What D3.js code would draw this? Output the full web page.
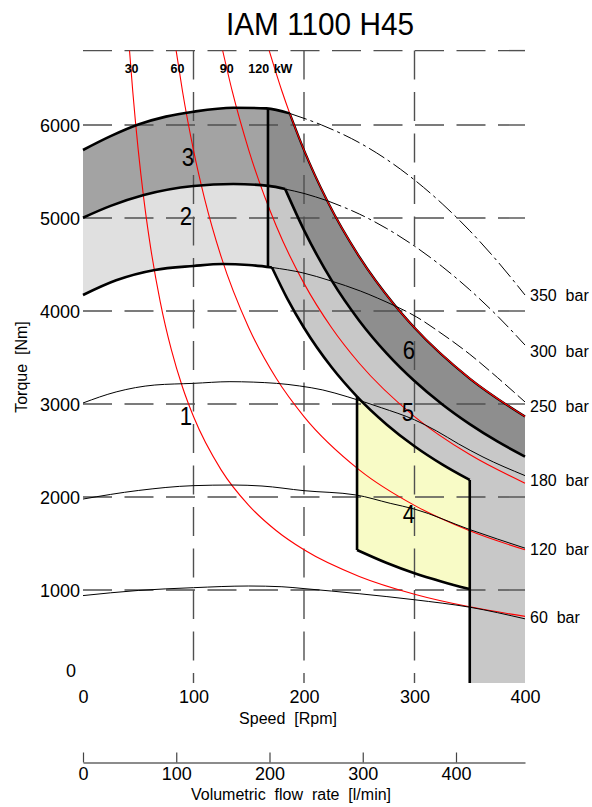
<!DOCTYPE html>
<html><head><meta charset="utf-8">
<script src="https://cdn.jsdelivr.net/npm/d3@7"></script>
<style>
body{margin:0;background:#fff}
svg{display:block}
text{font-family:"Liberation Sans",Arial,sans-serif;fill:#000}
</style></head>
<body><svg id="c" width="592" height="807"></svg>
<script>
// ---------- data ----------
const chartTitle = "IAM 1100 H45";
const rpmTicks = [0, 100, 200, 300, 400];
const torqueTicks = [1000, 2000, 3000, 4000, 5000, 6000];
const torqueGrid = [1000, 2000, 3000, 4000, 5000, 6000, 6800];
const rpmGrid = [100, 200, 300];
const flowTicks = [0, 100, 200, 300, 400];
const flowMax = 474;
const powerLabels = ["30", "60", "90", "120", "kW"];
const powerLabelRpm = [44, 85.5, 130, 159, 181];
const pressureLabels = ["350  bar", "300  bar", "250  bar", "180  bar", "120  bar", "60  bar"];

// pressure lines: [rpm, torque Nm]
const p350 = [[0,5731],[25,5880],[50,6005],[75,6090],[100,6143],[136,6186],[166,6179],[187,6125],[216,6000],[250,5810],[275,5628],[300,5409],[325,5154],[350,4863],[375,4535],[400,4172]];
const p300 = [[0,5003],[25,5130],[55,5247],[100,5344],[136,5366],[168,5345],[183,5311],[200,5264],[221,5186],[250,5043],[275,4886],[300,4698],[325,4478],[350,4228],[375,3947],[400,3634]];
const p250 = [[0,4172],[30,4330],[65,4441],[100,4484],[126,4505],[150,4495],[171,4468],[199,4410],[224,4325],[251,4215],[282,4057],[302,3935],[323,3770],[350,3535],[375,3285],[400,3022]];
const p180 = [[0,3011],[30,3130],[65,3204],[100,3222],[133,3240],[175,3222],[196,3194],[217,3151],[239,3079],[270,2960],[300,2830],[320,2710],[340,2570],[362,2430],[400,2230]];
const p120 = [[0,1978],[50,2070],[100,2122],[135,2129],[162,2118],[200,2068],[247,2022],[278,1932],[300,1870],[350,1650],[400,1450]];
const p60  = [[0,940],[50,995],[100,1025],[150,1043],[180,1035],[200,1015],[250,960],[300,895],[350,815],[400,690]];

// constant power lines (kW)
const kw30  = [[42.1,6800],[45,6366],[50,5730],[55,5209],[60,4775],[70,4093],[80,3581],[90,3183],[100,2865],[125,2292],[150,1910],[175,1637],[200,1432],[250,1146],[300,955],[350,819],[400,716]];
const kw60  = [[84.3,6800],[90,6366],[100,5730],[110,5209],[125,4584],[150,3820],[175,3274],[200,2865],[250,2292],[300,1910],[350,1637],[400,1432]];
const kw90  = [[126.4,6800],[135,6366],[150,5730],[175,4911],[200,4297],[225,3820],[250,3438],[300,2865],[350,2456],[400,2149]];
const kw120 = [[168.5,6800],[180,6366],[187,6128],[200,5730],[221,5185],[250,4584],[282,4064],[300,3820],[350,3274],[400,2865]];

// region boundaries
const lineA = [[183,5311],[200,4870],[225,4329],[250,3896],[275,3542],[300,3247],[325,2997],[350,2783],[375,2597],[400,2435]];
const lineB = [[171,4468],[185,4130],[200,3820],[225,3395],[248,3080],[275,2778],[300,2546],[325,2351],[350,2183]];
const r4Bottom = [[248,1430],[275,1290],[300,1180],[325,1090],[350,1010]];
const contLimitRpm = 167.4;
const r4Rpm = [248, 350];

const regionLabels = [["1",93,2871],["2",93,5022],["3",95,5656],["4",295,1817],["5",294,2914],["6",295,3581]];

// ---------- drawing ----------
const svg = d3.select("#c");
const xS = d3.scaleLinear().domain([0,400]).range([83,525]);
const yS = d3.scaleLinear().domain([0,6800]).range([683,50.6]);
const fS = d3.scaleLinear().domain([0,flowMax]).range([83,525]);

const line = d3.line().x(d=>xS(d[0])).y(d=>yS(d[1])).curve(d3.curveMonotoneX);

function at(arr,n){
  for(let i=0;i<arr.length-1;i++){
    const [x0,y0]=arr[i],[x1,y1]=arr[i+1];
    if(n>=x0&&n<=x1) return y0+(y1-y0)*(n-x0)/(x1-x0);
  }
  return arr[arr.length-1][1];
}
function part(arr,a,b){
  const pts=[[a,at(arr,a)]];
  arr.forEach(p=>{ if(p[0]>a+1&&p[0]<b-1) pts.push(p); });
  pts.push([b,at(arr,b)]);
  return pts;
}
const rev = p=>p.slice().reverse();
function poly(segs){
  const p=d3.path(); let first=true;
  const ctx={
    moveTo(x,y){ if(first){p.moveTo(x,y);first=false;} else p.lineTo(x,y); },
    lineTo(x,y){ p.lineTo(x,y); },
    bezierCurveTo(a,b,c,d,e,f){ p.bezierCurveTo(a,b,c,d,e,f); },
    closePath(){}
  };
  segs.forEach(s=>{
    if(s.length===1) ctx.moveTo(xS(s[0][0]),yS(s[0][1]));
    else line.context(ctx)(s);
  });
  line.context(null);
  p.closePath();
  return p.toString();
}
const B = contLimitRpm;

// fills
const gFill = svg.append("g");
const fills = [
  [poly([part(p350,0,B), rev(part(p300,0,B))]), "#a3a3a3"],
  [poly([part(p300,0,B), rev(part(p250,0,B))]), "#e0e0e0"],
  [poly([part(p350,B,187), part(kw120,187,400), rev(part(lineA,183,400)), rev(part(p300,B,183))]), "#8e8e8e"],
  [poly([part(p300,B,183), part(lineA,183,400), [[400,0]], [[350,0]], rev(part(lineB,171,350)), rev(part(p250,B,171))]), "#c8c8c8"],
  [poly([part(r4Bottom,r4Rpm[0],r4Rpm[1]), rev(part(lineB,r4Rpm[0],r4Rpm[1]))]), "#f8fbc6"]
];
fills.forEach(([d,c])=>gFill.append("path").attr("d",d).attr("fill",c));

// grid
const gGrid = svg.append("g").attr("stroke","#505050").attr("stroke-width",1.4).attr("stroke-dasharray","29,12.5").attr("fill","none");
torqueGrid.forEach(t=>gGrid.append("line").attr("x1",xS(0)).attr("x2",xS(400)).attr("y1",yS(t)).attr("y2",yS(t)));
rpmGrid.forEach(r=>gGrid.append("line").attr("x1",xS(r)).attr("x2",xS(r)).attr("y1",yS(6800)).attr("y2",yS(0)));

// red power lines
const gRed = svg.append("g").attr("fill","none");
gRed.append("path").attr("d",line(part(kw120,187,400))).attr("stroke","#000").attr("stroke-width",2.2);
[kw30,kw60,kw90,kw120].forEach(k=>gRed.append("path").attr("d",line(k)).attr("stroke","#ff0000").attr("stroke-width",1.1));

// thin pressure lines
const gThin = svg.append("g").attr("fill","none").attr("stroke","#000").attr("stroke-width",1);
[p180,p120,p60].forEach(p=>gThin.append("path").attr("d",line(p)));
gThin.append("path").attr("d",line(part(p250,171,282)));
gThin.append("path").attr("d",line(part(p250,282,400))).attr("stroke-dasharray","13,4");
gThin.append("path").attr("d",line(part(p300,183,221)));
gThin.append("path").attr("d",line(part(p300,221,400))).attr("stroke-dasharray","15,4,3,4");
gThin.append("path").attr("d",line(part(p350,187,400))).attr("stroke-dasharray","18,4,3,4");

// thick boundaries
const gThick = svg.append("g").attr("fill","none").attr("stroke","#000").attr("stroke-width",2.6).attr("stroke-linejoin","round");
[part(p350,0,187), part(p300,0,183), part(p250,0,171), lineA, lineB, r4Bottom].forEach(p=>gThick.append("path").attr("d",line(p)));
const vlines = [
  [[B,at(p250,B)],[B,at(p350,B)]],
  [[r4Rpm[0],at(r4Bottom,r4Rpm[0])],[r4Rpm[0],at(lineB,r4Rpm[0])]],
  [[r4Rpm[1],0],[r4Rpm[1],at(lineB,r4Rpm[1])]]
];
vlines.forEach(v=>gThick.append("line").attr("x1",xS(v[0][0])).attr("y1",yS(v[0][1])).attr("x2",xS(v[1][0])).attr("y2",yS(v[1][1])));

// axes
const yAx = svg.append("g").attr("transform",`translate(${xS(0)},0)`)
  .call(d3.axisLeft(yS).tickValues(torqueTicks).tickSize(0).tickPadding(3).tickFormat(d3.format("d")));
yAx.select(".domain").remove();
yAx.selectAll("text").attr("font-size",18).attr("font-family","Liberation Sans").attr("dy","0.38em");

const xAx = svg.append("g").attr("transform",`translate(0,${yS(0)})`)
  .call(d3.axisBottom(xS).tickValues(rpmTicks).tickSize(0).tickPadding(7).tickFormat(d3.format("d")));
xAx.select(".domain").remove();
xAx.selectAll("text").attr("font-size",18).attr("font-family","Liberation Sans");

const fAx = svg.append("g").attr("transform","translate(0,762.5)")
  .call(d3.axisBottom(fS).tickValues(flowTicks).tickSizeInner(-10).tickSizeOuter(0).tickPadding(5).tickFormat(d3.format("d")));
fAx.select(".domain").attr("stroke","#666").attr("stroke-width",1.6);
fAx.selectAll(".tick line").attr("stroke","#444").attr("stroke-width",1.2);
fAx.selectAll("text").attr("font-size",18).attr("font-family","Liberation Sans");

// texts
function txt(s,x,y,size,opt={}){
  const t=svg.append("text").attr("transform",`translate(${x},${y})${opt.rot?` rotate(${opt.rot})`:""} scale(${opt.sx||1},1)`)
    .attr("font-size",size).attr("text-anchor",opt.anchor||"middle").style("white-space","pre").text(s);
  if(opt.bold) t.attr("font-weight","bold");
  return t;
}
txt(chartTitle, 320, 35, 32, {sx:0.93});
txt("0", 71, 677, 18);
txt("Speed  [Rpm]", 288, 724, 16);
txt("Volumetric  flow  rate  [l/min]", 291, 800, 16);
txt("Torque  [Nm]", 27, 367, 16, {rot:-90});
powerLabels.forEach((s,i)=>txt(s, xS(powerLabelRpm[i]), 73, 12.5, {bold:true}));
const pEnds=[p350,p300,p250,p180,p120,p60].map(p=>p[p.length-1][1]);
const pOff=[6,12,10,10,7,4];
pressureLabels.forEach((s,i)=>txt(s, 530, yS(pEnds[i])+pOff[i], 16, {anchor:"start"}));
regionLabels.forEach(([s,r,t])=>txt(s, xS(r), yS(t)+9, 26, {sx:0.85}));
</script></body></html>
